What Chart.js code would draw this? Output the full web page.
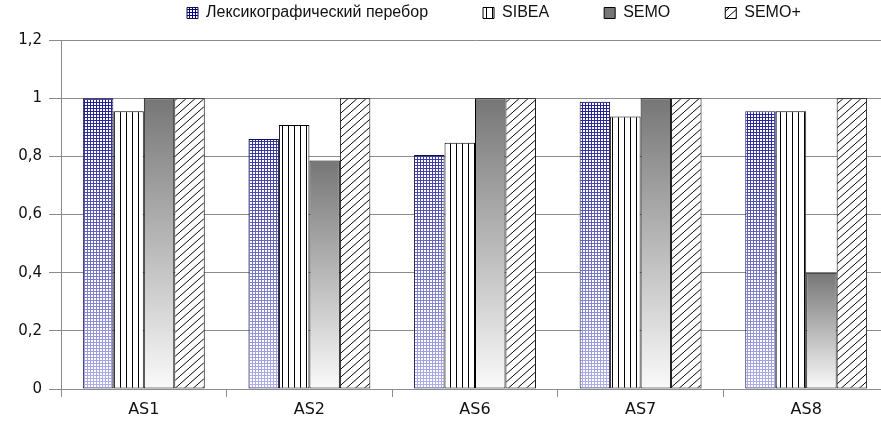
<!DOCTYPE html>
<html>
<head>
<meta charset="utf-8">
<script src="https://cdn.jsdelivr.net/npm/chart.js@4.4.1/dist/chart.umd.min.js"></script>
<style>
  html, body { margin: 0; padding: 0; background: #fff; overflow: hidden; }
  #wrap { width: 892px; height: 427px; position: relative; }
</style>
</head>
<body>
<div id="wrap"><canvas id="c"></canvas></div>
<script>
// Categories, series and axis labels
const categories = ['AS1', 'AS2', 'AS6', 'AS7', 'AS8'];
const seriesNames = ['Лексикографический перебор', 'SIBEA', 'SEMO', 'SEMO+'];
const lexValues = [1, 0.86, 0.805, 0.988, 0.955];
const sibeaValues = [0.955, 0.908, 0.847, 0.937, 0.955];
const semoValues = [1, 0.786, 1, 1, 0.4];
const semoPlusValues = [1, 1, 1, 1, 1];
const yTickLabels = ['0', '0,2', '0,4', '0,6', '0,8', '1', '1,2'];

// Legend row placement (left edge of first swatch, vertical middle of row)
const LEGEND_START_X = 187;
const LEGEND_MID_Y = 13;

function makeTile(w, h, draw) {
  const c = document.createElement('canvas');
  c.width = w; c.height = h;
  const g = c.getContext('2d');
  g.fillStyle = '#fff';
  g.fillRect(0, 0, w, h);
  draw(g, w, h);
  return c;
}

// Vertical stripes
const stripeTile = makeTile(6, 1, (g) => { g.fillStyle = '#000'; g.fillRect(0, 0, 1, 1); });
// Upward diagonal hatch
const hatchTile = makeTile(9, 8, (g) => {
  g.strokeStyle = '#000'; g.lineWidth = 1;
  g.beginPath();
  g.moveTo(0, 8); g.lineTo(9, 0);
  g.moveTo(-1, 1); g.lineTo(1, -1);
  g.moveTo(8, 9); g.lineTo(10, 7);
  g.stroke();
});

const tmpCtx = document.createElement('canvas').getContext('2d');
const stripePattern = tmpCtx.createPattern(stripeTile, 'repeat');
const hatchPattern = tmpCtx.createPattern(hatchTile, 'repeat');

// Blue grid whose colour fades from navy at the top to lavender at the bottom
let lexCache = null;
function lexFill(ctx) {
  const chart = ctx.chart;
  const area = chart.chartArea;
  if (!area) return '#3030a0';
  const key = chart.width + 'x' + chart.height + ':' + area.top + ':' + area.bottom;
  if (lexCache && lexCache.key === key) return lexCache.pattern;
  const c = document.createElement('canvas');
  c.width = chart.width; c.height = chart.height;
  const g = c.getContext('2d');
  g.fillStyle = '#fff';
  g.fillRect(0, 0, c.width, c.height);
  const grad = g.createLinearGradient(0, area.top, 0, area.bottom);
  grad.addColorStop(0, '#000080');
  grad.addColorStop(1, '#b0b0ea');
  g.fillStyle = grad;
  for (let x = 0; x < c.width; x += 3) g.fillRect(x, 0, 1, c.height);
  for (let y = 0; y < c.height; y += 3) g.fillRect(0, y, c.width, 1);
  lexCache = { key, pattern: chart.ctx.createPattern(c, 'no-repeat') };
  return lexCache.pattern;
}

// Grey gradient per bar, dark at the top, white at the base
function semoFill(ctx) {
  const chart = ctx.chart;
  if (!chart.chartArea || ctx.type !== 'data') return '#a0a0a0';
  const y = chart.scales.y;
  const top = y.getPixelForValue(ctx.raw);
  const base = y.getPixelForValue(0);
  const grad = chart.ctx.createLinearGradient(0, top, 0, base);
  grad.addColorStop(0, '#767676');
  grad.addColorStop(1, '#fafafa');
  return grad;
}

// Moves the legend row into place; its clip box is widened to keep it visible
const legendPlacement = {
  id: 'legendPlacement',
  afterLayout(chart) {
    const lg = chart.legend;
    if (!lg || !lg.lineWidths || !lg.legendHitBoxes.length) return;
    const pad = lg.options.labels.padding;
    const startX = (lg.left + pad + lg.right - lg.lineWidths[0]) / 2;
    const dx = LEGEND_START_X - startX;
    lg.left += dx; lg.right += dx;
    const h = lg.legendHitBoxes[0].height;
    const dy = LEGEND_MID_Y - (lg.top + pad + h / 2);
    lg.top += dy;
  }
};

const barStyle = {
  borderColor: '#000',
  borderWidth: 1,
  borderSkipped: false,
  barPercentage: 1,
  categoryPercentage: 0.736
};

new Chart(document.getElementById('c'), {
  type: 'bar',
  data: {
    labels: categories,
    datasets: [
      { label: seriesNames[0], data: lexValues, backgroundColor: lexFill, ...barStyle, borderColor: '#10104a' },
      { label: seriesNames[1], data: sibeaValues, backgroundColor: stripePattern, ...barStyle },
      { label: seriesNames[2], data: semoValues, backgroundColor: semoFill, ...barStyle },
      { label: seriesNames[3], data: semoPlusValues, backgroundColor: hatchPattern, ...barStyle }
    ]
  },
  options: {
    responsive: true,
    maintainAspectRatio: false,
    devicePixelRatio: 1,
    animation: false,
    events: [],
    layout: { padding: { top: 12, right: 3, bottom: 0, left: 0 } },
    plugins: {
      tooltip: { enabled: false },
      legend: {
        position: 'top',
        maxHeight: 28,
        labels: {
          boxWidth: 11,
          boxHeight: 11,
          padding: 55,
          color: '#111',
          font: { family: 'Liberation Sans', size: 16 }
        }
      }
    },
    scales: {
      x: {
        grid: { offset: true, drawOnChartArea: false, tickLength: 8, color: '#8c8c8c' },
        border: { color: '#8c8c8c' },
        ticks: { color: '#111', padding: 3, font: { family: 'DejaVu Sans', size: 16 } },
        afterFit(scale) { scale.height = 38; }
      },
      y: {
        min: 0,
        max: 1.2,
        ticks: {
          stepSize: 0.2,
          color: '#111',
          padding: 7,
          font: { family: 'DejaVu Sans', size: 15 },
          callback: (v, i) => yTickLabels[i]
        },
        grid: { color: '#8c8c8c', tickLength: 12 },
        border: { color: '#8c8c8c' },
        afterFit(scale) { scale.width = 61; }
      }
    }
  },
  plugins: [legendPlacement]
});
</script>
</body>
</html>
